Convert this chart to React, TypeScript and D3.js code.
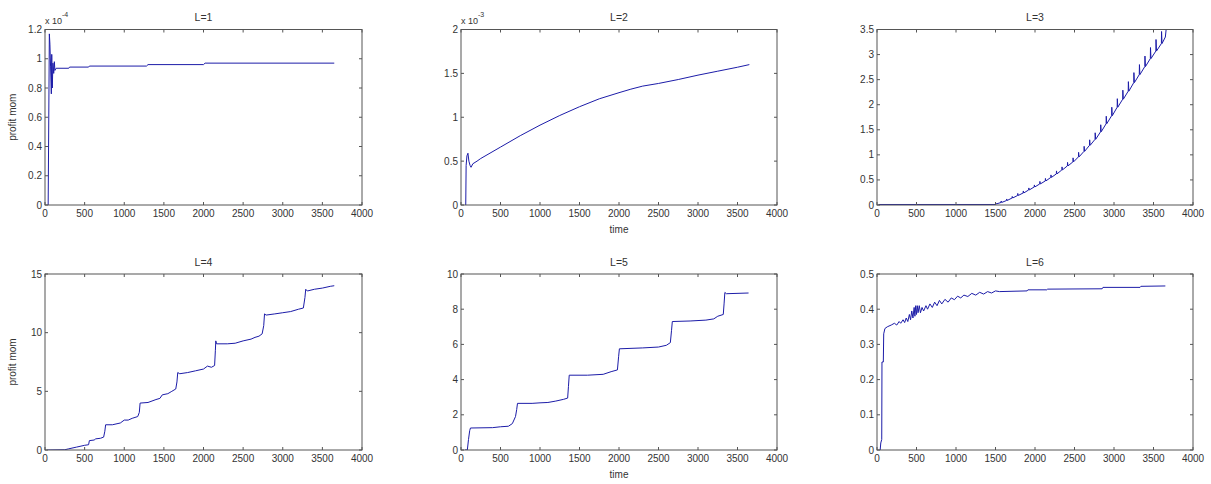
import React from "react";
import * as d3 from "d3";

// ---------- data ----------
const xTicks = [0, 500, 1000, 1500, 2000, 2500, 3000, 3500, 4000];

const titles = ["L=1", "L=2", "L=3", "L=4", "L=5", "L=6"];

const yTicksL1 = [0, 0.2, 0.4, 0.6, 0.8, 1, 1.2];
const yTicksL2 = [0, 0.5, 1, 1.5, 2];
const yTicksL3 = [0, 0.5, 1, 1.5, 2, 2.5, 3, 3.5];
const yTicksL4 = [0, 5, 10, 15];
const yTicksL5 = [0, 2, 4, 6, 8, 10];
const yTicksL6 = [0, 0.1, 0.2, 0.3, 0.4, 0.5];

// L=1 values in units of 1e-4
const seriesL1: [number, number][] = [
  [40, 0], [55, 1.17], [62, 1.1], [70, 0.95], [80, 0.76], [85, 1.03], [92, 0.8],
  [100, 0.97], [110, 0.9], [118, 0.98], [125, 0.92], [140, 0.935], [300, 0.935],
  [310, 0.943], [550, 0.943], [560, 0.95], [1280, 0.95], [1300, 0.96], [2000, 0.96],
  [2020, 0.97], [3650, 0.97],
];

// L=2 values in units of 1e-3
const seriesL2: [number, number][] = [
  [55, 0], [60, 0], [65, 0.45], [75, 0.56], [88, 0.59], [100, 0.5], [115, 0.45],
  [127, 0.43], [150, 0.47], [203, 0.5], [250, 0.53], [500, 0.66], [750, 0.79],
  [1000, 0.91], [1250, 1.02], [1500, 1.12], [1750, 1.21], [2000, 1.28], [2150, 1.32],
  [2300, 1.355], [2500, 1.385], [2750, 1.43], [3000, 1.48], [3250, 1.525], [3500, 1.57],
  [3650, 1.6],
];

// spikes riding on a rising curve: [t, base], [t, peak], [t, base]
const seriesL3: [number, number][] = [
  [20, 0.01], [1500, 0.01], [1502, 0.04], [1508, 0.02],
  [1570, 0.05], [1572, 0.08], [1578, 0.05], [1640, 0.09], [1642, 0.12], [1648, 0.09],
  [1710, 0.14], [1712, 0.17], [1718, 0.14], [1780, 0.19], [1782, 0.23], [1788, 0.19],
  [1850, 0.24], [1852, 0.28], [1858, 0.24], [1920, 0.3], [1922, 0.34], [1928, 0.3],
  [1990, 0.36], [1992, 0.4], [1998, 0.36], [2060, 0.42], [2062, 0.47], [2068, 0.42],
  [2130, 0.48], [2132, 0.53], [2138, 0.48], [2200, 0.55], [2202, 0.6], [2208, 0.55],
  [2270, 0.62], [2272, 0.68], [2278, 0.62], [2340, 0.7], [2342, 0.76], [2348, 0.7],
  [2410, 0.78], [2412, 0.85], [2418, 0.78], [2480, 0.86], [2482, 0.94], [2488, 0.86],
  [2550, 0.96], [2552, 1.05], [2558, 0.96], [2620, 1.07], [2622, 1.17], [2628, 1.07],
  [2690, 1.19], [2692, 1.3], [2698, 1.19], [2760, 1.31], [2762, 1.44], [2768, 1.31],
  [2830, 1.46], [2832, 1.6], [2838, 1.46], [2900, 1.62], [2902, 1.77], [2908, 1.62],
  [2970, 1.78], [2972, 1.95], [2978, 1.78], [3040, 1.95], [3042, 2.12], [3048, 1.95],
  [3110, 2.11], [3112, 2.29], [3118, 2.11], [3180, 2.27], [3182, 2.46], [3188, 2.27],
  [3250, 2.44], [3252, 2.64], [3258, 2.44], [3320, 2.6], [3322, 2.8], [3328, 2.6],
  [3390, 2.76], [3392, 2.97], [3398, 2.76], [3460, 2.92], [3462, 3.14], [3468, 2.92],
  [3530, 3.07], [3532, 3.3], [3538, 3.07], [3600, 3.22], [3602, 3.46], [3608, 3.22],
  [3650, 3.35], [3660, 3.5],
];

const seriesL4: [number, number][] = [
  [30, 0], [250, 0.02], [300, 0.1], [400, 0.25], [500, 0.4], [550, 0.45], [560, 0.8],
  [620, 0.85], [640, 0.95], [700, 1.0], [740, 1.1], [755, 1.6], [765, 2.15], [850, 2.15],
  [950, 2.3], [1000, 2.55], [1050, 2.55], [1100, 2.7], [1170, 2.85], [1190, 3.2],
  [1200, 4.0], [1300, 4.05], [1400, 4.3], [1450, 4.4], [1480, 4.7], [1550, 4.8],
  [1600, 5.0], [1650, 5.2], [1665, 5.8], [1675, 6.6], [1700, 6.5], [1800, 6.6],
  [1900, 6.75], [2000, 6.9], [2050, 7.15], [2100, 7.05], [2140, 7.2], [2150, 8.5],
  [2155, 9.3], [2165, 9.05], [2300, 9.05], [2400, 9.1], [2500, 9.3], [2600, 9.45],
  [2650, 9.6], [2700, 9.7], [2740, 9.9], [2760, 10.6], [2770, 11.6], [2790, 11.5],
  [2900, 11.6], [3000, 11.7], [3100, 11.8], [3200, 12.0], [3260, 12.1], [3280, 13.0],
  [3290, 13.7], [3310, 13.55], [3400, 13.7], [3500, 13.8], [3600, 13.95], [3650, 14.0],
];

const seriesL5: [number, number][] = [
  [50, 0], [80, 0], [95, 0.6], [110, 1.1], [120, 1.25], [400, 1.27], [500, 1.32],
  [600, 1.35], [650, 1.5], [690, 1.9], [705, 2.3], [715, 2.65], [900, 2.65],
  [1000, 2.68], [1100, 2.7], [1200, 2.78], [1300, 2.88], [1350, 2.95], [1360, 3.6],
  [1370, 4.25], [1600, 4.25], [1800, 4.3], [1900, 4.45], [1980, 4.55], [1995, 5.3],
  [2005, 5.75], [2300, 5.8], [2500, 5.85], [2600, 5.95], [2650, 6.1], [2665, 6.8],
  [2675, 7.3], [2900, 7.33], [3100, 7.38], [3200, 7.45], [3250, 7.6], [3320, 7.7],
  [3330, 8.3], [3340, 8.95], [3360, 8.88], [3640, 8.92],
];

const seriesL6: [number, number][] = [
  [40, 0], [48, 0.02], [60, 0.03], [63, 0.25], [80, 0.25], [85, 0.33], [100, 0.345],
  [130, 0.35], [180, 0.355], [220, 0.36], [250, 0.355], [280, 0.365], [300, 0.36],
  [330, 0.37], [350, 0.362], [370, 0.375], [390, 0.365], [410, 0.385], [425, 0.37],
  [440, 0.395], [455, 0.375], [470, 0.405], [480, 0.38], [490, 0.41], [500, 0.385],
  [510, 0.41], [520, 0.39], [535, 0.41], [550, 0.39], [570, 0.405], [590, 0.395],
  [620, 0.41], [640, 0.4], [670, 0.415], [700, 0.405], [730, 0.42], [760, 0.41],
  [790, 0.425], [820, 0.415], [860, 0.428], [900, 0.42], [940, 0.432], [980, 0.427],
  [1020, 0.437], [1060, 0.432], [1100, 0.44], [1150, 0.436], [1200, 0.445],
  [1250, 0.44], [1300, 0.448], [1350, 0.443], [1400, 0.45], [1450, 0.446],
  [1500, 0.452], [1550, 0.45], [1900, 0.452], [1910, 0.455], [2150, 0.455],
  [2160, 0.457], [2850, 0.458], [2860, 0.462], [3330, 0.462], [3340, 0.465],
  [3650, 0.466],
];

// ---------- layout ----------
const W = 1211;
const H = 484;
const FONT = "'Liberation Sans Narrow', 'Liberation Sans', Arial, sans-serif";
const AXIS_COLOR = "#555";
const TEXT_COLOR = "#333";
const LINE_COLOR = "#1c1ca8";

type Panel = {
  title: string;
  data: [number, number][];
  yTicks: number[];
  yMax: number;
  box: { x0: number; x1: number; y0: number; y1: number };
  ylabel?: string;
  xlabel?: string;
  exponent?: string;
};

const colX = [
  { x0: 45, x1: 362 },
  { x0: 461, x1: 777 },
  { x0: 877, x1: 1193 },
];
const rowY = [
  { y0: 29.5, y1: 205 },
  { y0: 274, y1: 450 },
];

const panels: Panel[] = [
  { title: titles[0], data: seriesL1, yTicks: yTicksL1, yMax: 1.2, box: { ...colX[0], ...rowY[0] }, ylabel: "profit mom", exponent: "-4" },
  { title: titles[1], data: seriesL2, yTicks: yTicksL2, yMax: 2, box: { ...colX[1], ...rowY[0] }, xlabel: "time", exponent: "-3" },
  { title: titles[2], data: seriesL3, yTicks: yTicksL3, yMax: 3.5, box: { ...colX[2], ...rowY[0] } },
  { title: titles[3], data: seriesL4, yTicks: yTicksL4, yMax: 15, box: { ...colX[0], ...rowY[1] }, ylabel: "profit mom" },
  { title: titles[4], data: seriesL5, yTicks: yTicksL5, yMax: 10, box: { ...colX[1], ...rowY[1] }, xlabel: "time" },
  { title: titles[5], data: seriesL6, yTicks: yTicksL6, yMax: 0.5, box: { ...colX[2], ...rowY[1] } },
];

const fmt = (v: number) => String(+v.toFixed(3));

function PanelView({ p }: { p: Panel }) {
  const { x0, x1, y0, y1 } = p.box;
  const x = d3.scaleLinear().domain([0, 4000]).range([x0, x1]);
  const y = d3.scaleLinear().domain([0, p.yMax]).range([y1, y0]);
  const line = d3
    .line<[number, number]>()
    .x((d) => x(d[0]))
    .y((d) => y(Math.min(d[1], p.yMax)));
  const tl = 3;
  const clipId = `clip-${p.title.replace("=", "")}`;
  return (
    <g>
      <defs>
        <clipPath id={clipId}>
          <rect x={x0} y={y0} width={x1 - x0} height={y1 - y0} />
        </clipPath>
      </defs>
      <path
        d={line(p.data) || ""}
        fill="none"
        stroke={LINE_COLOR}
        strokeWidth={1}
        clipPath={`url(#${clipId})`}
      />
      <rect x={x0} y={y0} width={x1 - x0} height={y1 - y0} fill="none" stroke={AXIS_COLOR} strokeWidth={1} />
      {xTicks.map((t) => (
        <g key={"x" + t}>
          <line x1={x(t)} x2={x(t)} y1={y1} y2={y1 - tl} stroke={AXIS_COLOR} />
          <line x1={x(t)} x2={x(t)} y1={y0} y2={y0 + tl} stroke={AXIS_COLOR} />
          <text x={x(t)} y={y1 + 12} textAnchor="middle" fontSize={10} fill={TEXT_COLOR}>
            {fmt(t)}
          </text>
        </g>
      ))}
      {p.yTicks.map((t) => (
        <g key={"y" + t}>
          <line x1={x0} x2={x0 + tl} y1={y(t)} y2={y(t)} stroke={AXIS_COLOR} />
          <line x1={x1} x2={x1 - tl} y1={y(t)} y2={y(t)} stroke={AXIS_COLOR} />
          <text x={x0 - 3} y={y(t) + 3.5} textAnchor="end" fontSize={10} fill={TEXT_COLOR}>
            {fmt(t)}
          </text>
        </g>
      ))}
      <text x={(x0 + x1) / 2} y={y0 - 8.5} textAnchor="middle" fontSize={10.5} fill={TEXT_COLOR}>
        {p.title}
      </text>
      {p.exponent && (
        <g fill={TEXT_COLOR}>
          <text x={x0} y={y0 - 6} fontSize={9}>
            x 10
          </text>
          <text x={x0 + 17} y={y0 - 13} fontSize={7}>
            {p.exponent}
          </text>
        </g>
      )}
      {p.ylabel && (
        <text
          transform={`translate(${16},${(y0 + y1) / 2}) rotate(-90)`}
          textAnchor="middle"
          fontSize={10}
          fill={TEXT_COLOR}
        >
          {p.ylabel}
        </text>
      )}
      {p.xlabel && (
        <text x={(x0 + x1) / 2} y={y1 + 28} textAnchor="middle" fontSize={10} fill={TEXT_COLOR}>
          {p.xlabel}
        </text>
      )}
    </g>
  );
}

export default function App() {
  return (
    <svg
      width={W}
      height={H}
      style={{ position: "absolute", left: 0, top: 0, background: "#fff", fontFamily: FONT }}
    >
      <rect width={W} height={H} fill="#fff" />
      {panels.map((p) => (
        <PanelView key={p.title} p={p} />
      ))}
    </svg>
  );
}
